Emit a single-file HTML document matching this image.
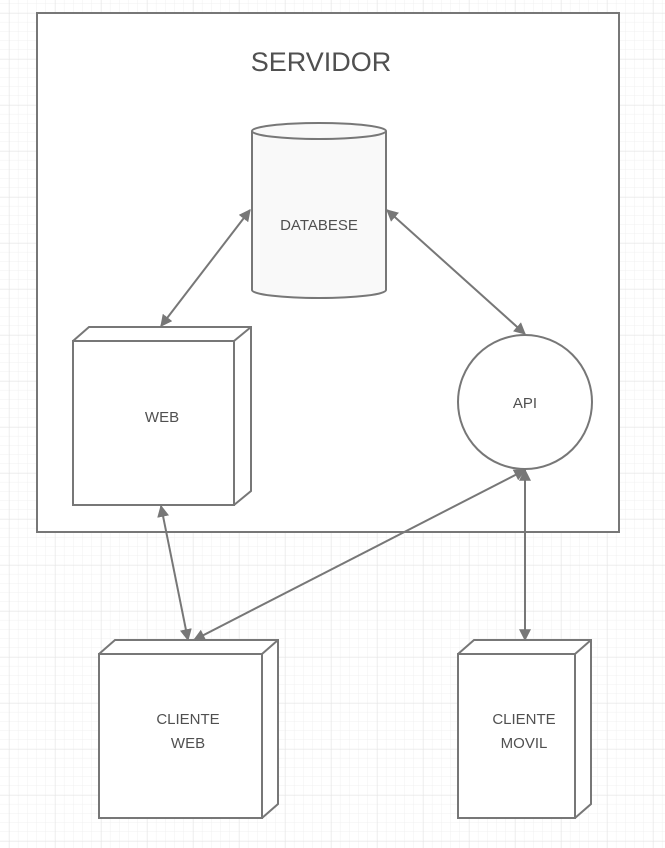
<!DOCTYPE html>
<html><head><meta charset="utf-8"><style>
html,body{margin:0;padding:0;background:#fff}
svg{display:block}
text{font-family:"Liberation Sans",sans-serif;fill:#505050}
</style></head><body>
<svg width="665" height="848" viewBox="0 0 665 848" xmlns="http://www.w3.org/2000/svg">
<defs>
<pattern id="minor" width="9.2" height="9.2" patternUnits="userSpaceOnUse" x="0" y="4">
<path d="M9.2 0V9.2M0 9.2H9.2" stroke="#f0f0f0" stroke-width="1" fill="none"/>
</pattern>
<pattern id="major" width="46" height="46" patternUnits="userSpaceOnUse" x="9" y="13">
<path d="M0 0V46M0 0H46" stroke="#e4e4e4" stroke-width="1" fill="none"/>
</pattern>
<marker id="ah" viewBox="0 0 10 10" refX="9" refY="5" markerWidth="12" markerHeight="12" markerUnits="userSpaceOnUse" orient="auto-start-reverse">
<path d="M0 0L10 5L0 10z" fill="#777"/>
</marker>
</defs>
<rect width="665" height="848" fill="url(#minor)"/>
<rect width="665" height="848" fill="url(#major)"/>
<g stroke="#777" stroke-width="2" fill="#fff">
<rect x="37" y="13" width="582" height="519"/>
<path d="M252 131V290A67 8 0 0 0 386 290V131" fill="#f9f9f9"/>
<ellipse cx="319" cy="131" rx="67" ry="8" fill="#f9f9f9"/>
<path d="M73 341L89 327H251V491L234 505"/>
<path d="M234 341L251 327"/>
<rect x="73" y="341" width="161" height="164"/>
<circle cx="525" cy="402" r="67"/>
<path d="M99 654L115 640H278V804L262 818"/>
<path d="M262 654L278 640"/>
<rect x="99" y="654" width="163" height="164"/>
<path d="M458 654L474 640H591V804L575 818"/>
<path d="M575 654L591 640"/>
<rect x="458" y="654" width="117" height="164"/>
</g>
<g stroke="#777" stroke-width="2" fill="none" marker-start="url(#ah)" marker-end="url(#ah)">
<line x1="250" y1="210" x2="161" y2="326"/>
<line x1="387" y1="210" x2="525" y2="334"/>
<line x1="161" y1="506" x2="188" y2="640"/>
<line x1="525" y1="470" x2="194" y2="640"/>
<line x1="525" y1="470" x2="525" y2="640"/>
</g>
<text x="321" y="71" font-size="27" text-anchor="middle">SERVIDOR</text>
<text x="319" y="230" font-size="15" text-anchor="middle">DATABESE</text>
<text x="162" y="422" font-size="15" text-anchor="middle">WEB</text>
<text x="525" y="408" font-size="15" text-anchor="middle">API</text>
<text x="188" y="724" font-size="15" text-anchor="middle">CLIENTE</text>
<text x="188" y="748" font-size="15" text-anchor="middle">WEB</text>
<text x="524" y="724" font-size="15" text-anchor="middle">CLIENTE</text>
<text x="524" y="748" font-size="15" text-anchor="middle">MOVIL</text>
</svg>
</body></html>
